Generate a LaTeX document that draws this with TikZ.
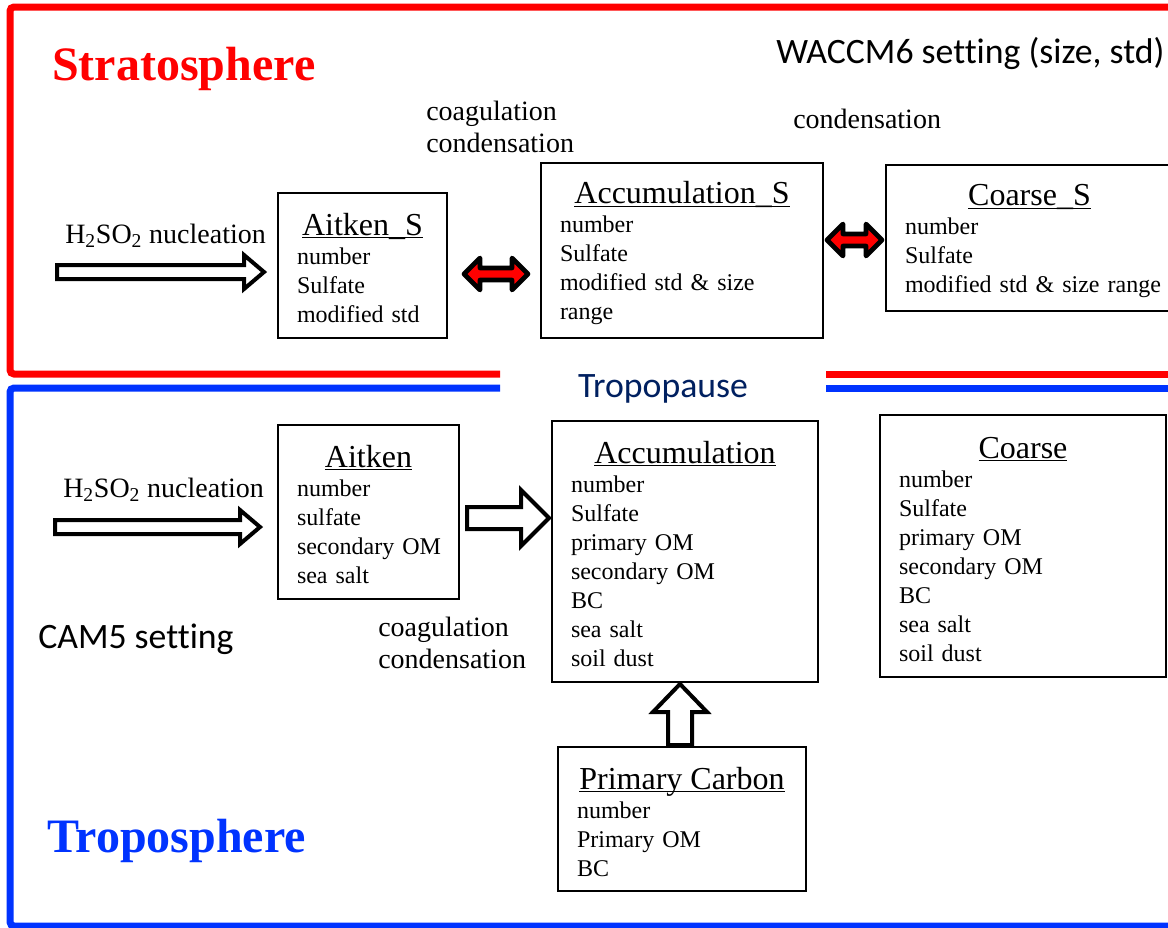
\documentclass[tikz,border=0pt]{standalone}
\usepackage{fontspec}
\setmainfont{Liberation Serif}
\newfontfamily\calibri[Ligatures=NoCommon]{Carlito}
\usetikzlibrary{calc}

\definecolor{stratored}{RGB}{255,0,0}
\definecolor{troposblue}{RGB}{0,51,255}
\definecolor{pausenavy}{RGB}{0,32,96}

\newcommand{\modehead}[1]{\makebox[\hsize]{\rule{0pt}{21pt}\fontsize{24}{24}\selectfont\underline{\raisebox{0pt}[\height][0pt]{#1}}}}

\begin{document}
\begin{tikzpicture}
[
    x=0.75pt, y=-0.75pt,
    mode/.style={draw, line width=1.5pt, anchor=north west, align=left,
        inner xsep=14.25pt, inner ysep=0pt, font=\fontsize{18}{21.75}\selectfont},
    lbl/.style={anchor=base west, align=left, inner sep=0pt, font=\fontsize{21}{24}\selectfont},
    sphere/.style={anchor=base west, inner sep=0pt, font=\fontsize{36}{40}\selectfont\bfseries},
    setting/.style={inner sep=0pt, font=\calibri\fontsize{26.8}{30}\selectfont},
    layer/.style={line width=5.25pt, rounded corners=3pt},
    % shaft half width / head half width / head length, in pt
    hollow/.style args={#1/#2/#3}{draw, line width=3pt, fill=white, line join=miter,
        to path={let \p1=(\tikztostart), \p2=(\tikztotarget),
            \n1={atan2(\y2-\y1,\x2-\x1)}, \n2={veclen(\x2-\x1,\y2-\y1)} in
            {[shift={(\p1)}, rotate=\n1] (0pt,-#1) -- (\n2-#3,-#1) -- (\n2-#3,-#2) -- (\n2,0pt)
                -- (\n2-#3,#2) -- (\n2-#3,#1) -- (0pt,#1) -- cycle}}},
    swap/.style={draw, line width=3.5pt, fill=stratored, line join=round,
        to path={let \p1=(\tikztostart), \p2=(\tikztotarget),
            \n1={atan2(\y2-\y1,\x2-\x1)}, \n2={veclen(\x2-\x1,\y2-\y1)} in
            {[shift={(\p1)}, rotate=\n1] (0pt,0pt) -- (12pt,-12pt) -- (12pt,-4.5pt) -- (\n2-12pt,-4.5pt)
                -- (\n2-12pt,-12pt) -- (\n2,0pt) -- (\n2-12pt,12pt) -- (\n2-12pt,4.5pt)
                -- (12pt,4.5pt) -- (12pt,12pt) -- cycle}}},
]
\fill[white] (0,0) rectangle (1168,928);
\useasboundingbox (0,0) rectangle (1168,928);

% layers
\draw[layer, stratored] (1190,7) -- (10,7) -- (10,374) -- (500,374);
\draw[layer, stratored] (826,374) -- (1190,374);
\draw[layer, troposblue] (500,388) -- (10,388) -- (10,926) -- (1190,926);
\draw[layer, troposblue] (826,388) -- (1190,388);

\node[sphere, stratored] (strato) at (52,80) {Stratosphere};
\node[sphere, troposblue] (tropo) at (47,852) {Troposphere};
\node[setting, anchor=base west] (waccm) at (776,63) {WACCM6 setting (size, std)};
\node[setting, anchor=base, pausenavy] (pause) at (663,397) {Tropopause};
\node[setting, anchor=base west] (cam) at (38,648) {CAM5 setting};

% stratospheric modes
\node[mode, text width=98.25pt, minimum width=126.75pt, minimum height=108.75pt] (aitkenS) at (277,192)
    {\modehead{Aitken\_S}\\ number\\ Sulfate\\ modified~std};
\node[mode, text width=183pt, minimum width=211.5pt, minimum height=131.25pt] (accS) at (540,162)
    {\modehead{Accumulation\_S}\\ number\\ Sulfate\\ modified~std~\&~size\\ range};
\node[mode, text width=186.75pt, minimum width=215.25pt, minimum height=109.5pt] (coarseS) at (885,164)
    {\modehead{Coarse\_S}\\ number\\ Sulfate\\ modified~std~\&~size~range};

% tropospheric modes
\node[mode, text width=107.25pt, minimum width=135.75pt, minimum height=130.5pt] (aitken) at (277,424)
    {\modehead{Aitken}\\ number\\ sulfate\\ secondary~OM\\ sea~salt};
\node[mode, text width=171pt, minimum width=199.5pt, minimum height=195.75pt] (acc) at (551,420)
    {\modehead{Accumulation}\\ number\\ Sulfate\\ primary~OM\\ secondary~OM\\ BC\\ sea~salt\\ soil~dust};
\node[mode, text width=186pt, minimum width=214.5pt, minimum height=196.5pt] (coarse) at (879,414)
    {\modehead{Coarse}\\ number\\ Sulfate\\ primary~OM\\ secondary~OM\\ BC\\ sea~salt\\ soil~dust};
\node[mode, text width=157.5pt, minimum width=186pt, minimum height=108pt] (primC) at (557,746)
    {\modehead{Primary Carbon}\\ number\\ Primary~OM\\ BC};

% process labels (base = last line)
\node[lbl] (nucSlbl) at (65,243) {H\textsubscript{2}SO\textsubscript{2} nucleation};
\node[lbl] (nucTlbl) at (63,497) {H\textsubscript{2}SO\textsubscript{2} nucleation};
\node[lbl] (coagS) at (426,152) {coagulation\\condensation};
\node[lbl] (condS) at (793,128) {condensation};
\node[lbl] (coagT) at (378,668) {coagulation\\condensation};

% arrows
\coordinate (srcS) at (57,272);
\coordinate (srcT) at (55,527);
\draw[hollow=5.25pt/12.75pt/15pt] (srcS) to ($(aitkenS.west |- srcS)+(-13,0)$);
\draw[hollow=5.25pt/12.75pt/15pt] (srcT) to ($(aitken.west |- srcT)+(-17,0)$);
\draw[hollow=8.25pt/21pt/21pt] ($(aitken.east)+(7,6)$) to ($(acc.west |- aitken.east)+(-2,6)$);
\draw[hollow=9pt/20.25pt/21pt] ($(primC.north)+(-2,-1)$) to ($(acc.south -| primC.north)+(-2,1)$);
\draw[swap] ($(aitkenS.east |- 0,274)+(16,0)$) to ($(accS.west |- 0,274)+(-12,0)$);
\draw[swap] ($(accS.east |- 0,240)+(3,0)$) to ($(coarseS.west |- 0,240)+(-3,0)$);
\end{tikzpicture}
\end{document}
